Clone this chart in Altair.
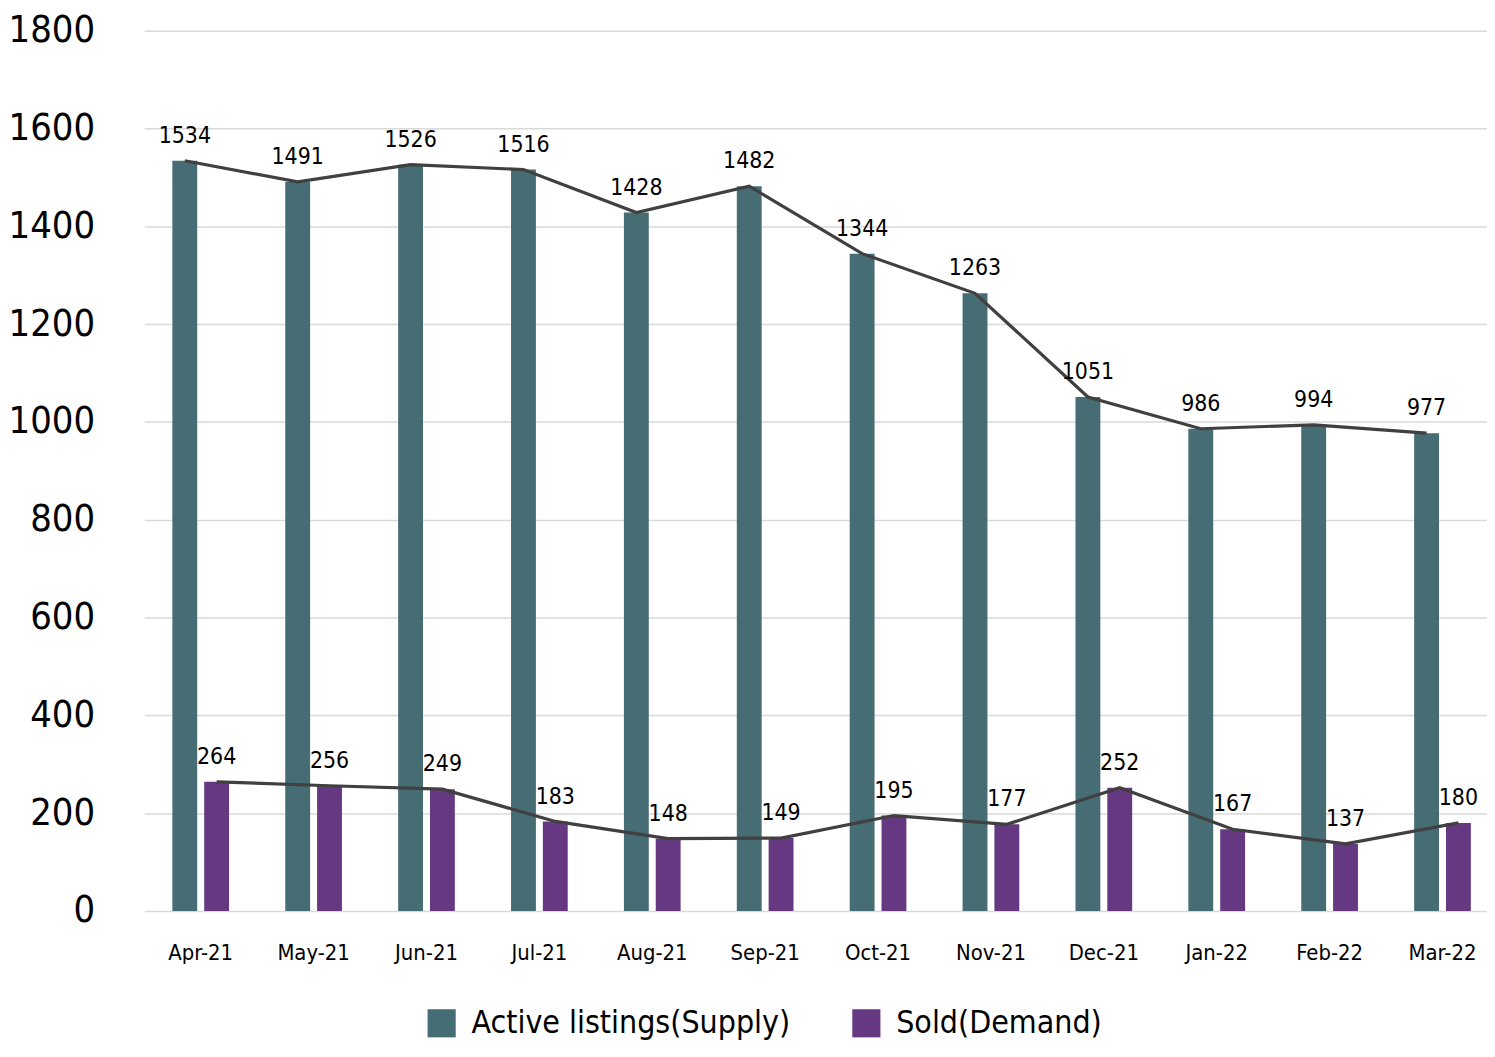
import altair as alt
import pandas as pd

months = ["Apr-21", "May-21", "Jun-21", "Jul-21", "Aug-21", "Sep-21",
          "Oct-21", "Nov-21", "Dec-21", "Jan-22", "Feb-22", "Mar-22"]
supply = [1534, 1491, 1526, 1516, 1428, 1482, 1344, 1263, 1051, 986, 994, 977]
sold = [264, 256, 249, 183, 148, 149, 195, 177, 252, 167, 137, 180]
series_names = ["Active listings(Supply)", "Sold(Demand)"]
series_colors = ["#466C74", "#663882"]
y_ticks = [0, 200, 400, 600, 800, 1000, 1200, 1400, 1600, 1800]

FONT = "DejaVu Sans Condensed, Liberation Sans Narrow, sans-serif"

rows = []
for m, v in zip(months, supply):
    rows.append({"month": m, "value": v, "series": series_names[0]})
for m, v in zip(months, sold):
    rows.append({"month": m, "value": v, "series": series_names[1]})
df = pd.DataFrame(rows)

x_enc = alt.X("month:N", sort=months,
              scale=alt.Scale(domain=months, range=[0, 1362]),
              axis=alt.Axis(title=None, labelAngle=0, labelFontSize=22, labelFont=FONT,
                            labelColor="black", labelPadding=32, ticks=False, domain=False))
y_enc = alt.Y("value:Q", scale=alt.Scale(domain=[0, 1800], nice=False),
              axis=alt.Axis(values=y_ticks, title=None, format="d", labelFontSize=38,
                            labelFont=FONT, labelColor="black", labelPadding=50,
                            ticks=False, domain=False, gridColor="#d9d9d9", gridWidth=1.5))
color_enc = alt.Color("series:N",
                      scale=alt.Scale(domain=series_names, range=series_colors),
                      legend=alt.Legend(title=None, orient="none", direction="horizontal",
                                        legendX=283, legendY=982,
                                        symbolType="square", symbolSize=800, symbolStrokeWidth=0,
                                        labelFontSize=32, labelFont=FONT, labelColor="black",
                                        labelLimit=0, columnPadding=60, labelOffset=14))

layers = []
for name, off in zip(series_names, [-16, 16]):
    base = alt.Chart(df).transform_filter(alt.datum.series == name)
    layers.append(base.mark_bar(width=25, xOffset=off).encode(x=x_enc, y=y_enc, color=color_enc))
    layers.append(base.mark_line(color="#404040", strokeWidth=3.2, xOffset=off).encode(x=x_enc, y=y_enc))
    layers.append(base.mark_text(xOffset=off, dy=-18, baseline="alphabetic", fontSize=23,
                                 font=FONT, color="black")
                  .encode(x=x_enc, y=y_enc, text="value:Q"))

chart = alt.layer(*layers).properties(
    width=1340, height=885,
    autosize=alt.AutoSizeParams(type="none"),
    padding={"left": 137, "top": 20, "right": 10, "bottom": 130},
).configure_view(stroke=None)

chart.save("out.html", embed_options={"renderer": "svg", "actions": False})
